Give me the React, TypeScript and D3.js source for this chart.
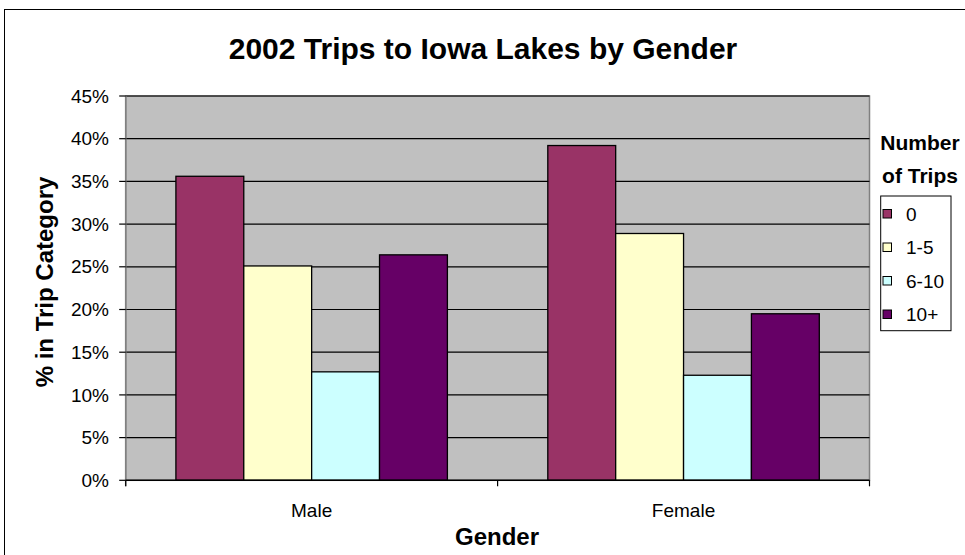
import React from "react";
import * as d3 from "d3";

const categories = ["Male", "Female"];
const series = ["0", "1-5", "6-10", "10+"];
const maleValues = [35.6, 25.1, 12.7, 26.4];
const femaleValues = [39.2, 28.9, 12.3, 19.5];
const seriesColors = ["#993366", "#FFFFCC", "#CCFFFF", "#660066"];
const yTicks = [0, 5, 10, 15, 20, 25, 30, 35, 40, 45];

const W = 965;
const H = 555;
const plot = { left: 125.7, right: 869.5, top: 96, bottom: 480.3 };
const font = "'Liberation Sans', Arial, sans-serif";

export default function App() {
  const valuesByCat = [maleValues, femaleValues];
  const x0 = d3.scaleBand<string>().domain(categories).range([plot.left, plot.right]);
  const bw = x0.bandwidth();
  const gap = bw * 0.135;
  const x1 = d3.scaleBand<string>().domain(series).range([gap, bw - gap]);
  const y = d3.scaleLinear().domain([0, 45]).range([plot.bottom, plot.top]);

  const catTicks = [plot.left, ...categories.map((c) => (x0(c) as number) + bw)];

  return (
    <svg
      width={W}
      height={H}
      style={{ position: "fixed", left: 0, top: 0, display: "block", background: "#fff" }}
      fontFamily={font}
    >
      <rect x={4.5} y={9.5} width={1000} height={700} fill="#fff" stroke="#000" strokeWidth={1} />
      <text x={483} y={59} textAnchor="middle" fontSize={30} fontWeight="bold">
        2002 Trips to Iowa Lakes by Gender
      </text>

      <rect
        x={plot.left}
        y={plot.top}
        width={plot.right - plot.left}
        height={plot.bottom - plot.top}
        fill="#C0C0C0"
        stroke="#808080"
        strokeWidth={1.5}
      />
      {yTicks.slice(1).map((t) => (
        <line key={"g" + t} x1={plot.left} x2={plot.right} y1={y(t)} y2={y(t)} stroke="#000" strokeWidth={1.2} />
      ))}

      {categories.map((c, ci) =>
        series.map((s, si) => {
          const v = valuesByCat[ci][si];
          const bx = (x0(c) as number) + (x1(s) as number);
          return (
            <rect
              key={c + s}
              x={bx}
              y={y(v)}
              width={x1.bandwidth()}
              height={y(0) - y(v)}
              fill={seriesColors[si]}
              stroke="#000"
              strokeWidth={1.3}
            />
          );
        })
      )}

      <line x1={plot.left} x2={plot.left} y1={plot.top} y2={plot.bottom + 6} stroke="#808080" strokeWidth={1.5} />
      <line x1={plot.left} x2={plot.right} y1={plot.bottom} y2={plot.bottom} stroke="#000" strokeWidth={1.5} />
      {yTicks.map((t) => (
        <g key={"t" + t}>
          <line x1={plot.left - 6.5} x2={plot.left} y1={y(t)} y2={y(t)} stroke="#000" strokeWidth={1.2} />
          <text x={109} y={y(t)} dy="0.35em" textAnchor="end" fontSize={19}>
            {t + "%"}
          </text>
        </g>
      ))}
      {catTicks.map((tx, i) => (
        <line key={"ct" + i} x1={tx} x2={tx} y1={plot.bottom} y2={plot.bottom + 6} stroke="#000" strokeWidth={1.2} />
      ))}
      {categories.map((c) => (
        <text key={"l" + c} x={(x0(c) as number) + bw / 2} y={517} textAnchor="middle" fontSize={19}>
          {c}
        </text>
      ))}

      <text x={497} y={545} textAnchor="middle" fontSize={24} fontWeight="bold">
        Gender
      </text>
      <text
        transform="translate(53,282) rotate(-90)"
        textAnchor="middle"
        fontSize={24}
        fontWeight="bold"
      >
        % in Trip Category
      </text>

      <text x={920} y={150} textAnchor="middle" fontSize={21} fontWeight="bold">
        Number
      </text>
      <text x={920} y={182.5} textAnchor="middle" fontSize={21} fontWeight="bold">
        of Trips
      </text>
      <rect x={880.7} y={196} width={70.3} height={134.7} fill="#fff" stroke="#000" strokeWidth={1} />
      {series.map((s, i) => {
        const cy = 214 + i * 33.5;
        return (
          <g key={"lg" + s}>
            <rect x={883} y={cy - 4.5} width={8.5} height={8.5} fill={seriesColors[i]} stroke="#000" strokeWidth={1} />
            <text x={906} y={cy} dy="0.35em" fontSize={19}>
              {s}
            </text>
          </g>
        );
      })}
    </svg>
  );
}
